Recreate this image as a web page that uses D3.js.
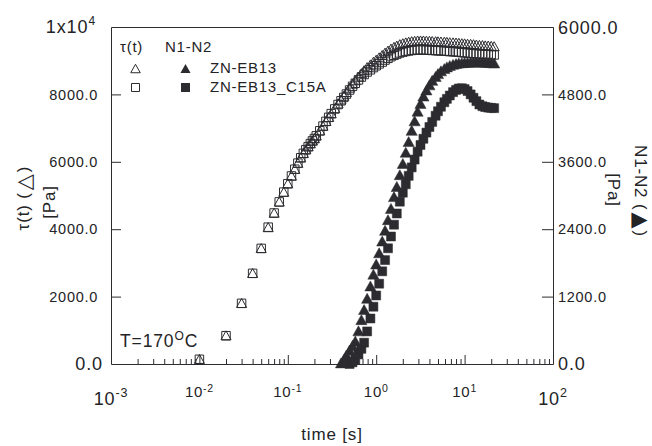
<!DOCTYPE html>
<html>
<head>
<meta charset="utf-8">
<script src="https://cdn.jsdelivr.net/npm/d3@7"></script>
<style>
  body { margin: 0; background: #fff; }
  svg text { font-family: "Liberation Sans", Arial, "DejaVu Sans", sans-serif; fill: #232326; letter-spacing: 0.05em; }
</style>
</head>
<body>
<div id="vis-container"></div>
<script>
// axis ticks
const decades = [1e-3, 1e-2, 1e-1, 1, 10, 100];
const decadeExp = ["-3", "-2", "-1", "0", "1", "2"];
const tauTicks = [2000, 4000, 6000, 8000];
const n12Ticks = [1200, 2400, 3600, 4800];

// shear stress tau(t), both samples share the same time points
const time = [0.01, 0.02, 0.03, 0.04, 0.05, 0.06, 0.07, 0.08, 0.09, 0.10,
  0.11, 0.12, 0.13, 0.14, 0.15, 0.16, 0.17, 0.18, 0.19, 0.20,
  0.21, 0.23, 0.25, 0.27, 0.29, 0.31, 0.34, 0.37, 0.40, 0.43,
  0.46, 0.50, 0.54, 0.58, 0.63, 0.68, 0.73, 0.79, 0.86, 0.93,
  1.0, 1.08, 1.17, 1.26, 1.36, 1.47, 1.59, 1.71, 1.85, 2.0,
  2.16, 2.33, 2.52, 2.72, 2.94, 3.17, 3.42, 3.7, 4.0, 4.3,
  4.7, 5.0, 5.4, 5.9, 6.3, 6.8, 7.4, 8.0, 8.6, 9.3,
  10, 10.8, 11.7, 12.6, 13.6, 14.7, 15.9, 17.1, 18.5, 20, 21.6];

const tauEB13 = [150, 850, 1810, 2700, 3440, 4060, 4490, 4820, 5110, 5360,
  5590, 5790, 5970, 6130, 6260, 6370, 6460, 6550, 6630, 6700,
  6780, 6930, 7070, 7210, 7330, 7440, 7590, 7730, 7850, 7960,
  8070, 8200, 8320, 8420, 8530, 8630, 8720, 8810, 8890, 8970,
  9030, 9100, 9170, 9240, 9300, 9360, 9410, 9450, 9490, 9520,
  9545, 9565, 9580, 9590, 9600, 9600, 9600, 9595, 9590, 9585,
  9580, 9575, 9570, 9565, 9560, 9550, 9545, 9540, 9530, 9520,
  9515, 9505, 9500, 9490, 9480, 9470, 9465, 9455, 9450, 9440, 9430];

const tauC15A = [140, 840, 1800, 2690, 3430, 4060, 4480, 4810, 5100, 5350,
  5580, 5780, 5960, 6120, 6250, 6360, 6450, 6540, 6620, 6690,
  6770, 6920, 7060, 7200, 7320, 7430, 7570, 7700, 7810, 7910,
  8010, 8130, 8240, 8330, 8430, 8515, 8590, 8665, 8730, 8795,
  8850, 8905, 8960, 9020, 9070, 9120, 9160, 9195, 9230, 9255,
  9275, 9290, 9305, 9315, 9320, 9320, 9320, 9315, 9310, 9305,
  9300, 9295, 9290, 9285, 9280, 9270, 9265, 9260, 9250, 9240,
  9235, 9225, 9220, 9210, 9200, 9195, 9190, 9185, 9180, 9175, 9170];

// normal stress difference N1-N2
const n12TimeEB13 = [0.40, 0.43, 0.46, 0.50, 0.54, 0.58, 0.63, 0.68, 0.73, 0.79,
  0.86, 0.93, 1.0, 1.08, 1.17, 1.26, 1.36, 1.47, 1.59, 1.71,
  1.85, 2.0, 2.16, 2.33, 2.52, 2.72, 2.94, 3.17, 3.42, 3.7,
  4.0, 4.3, 4.7, 5.0, 5.4, 5.9, 6.3, 6.8, 7.4, 8.0,
  8.6, 9.3, 10, 10.8, 11.7, 12.6, 13.6, 14.7, 15.9, 17.1,
  18.5, 20, 21.6];
const n12EB13 = [20, 80, 160, 250, 330, 410, 590, 790, 970, 1170,
  1390, 1600, 1780, 1980, 2190, 2380, 2570, 2770, 2980, 3160,
  3370, 3570, 3770, 3960, 4160, 4330, 4500, 4640, 4770, 4880,
  4970, 5050, 5120, 5170, 5220, 5260, 5290, 5315, 5335, 5350,
  5360, 5365, 5370, 5372, 5375, 5376, 5377, 5377, 5376, 5374,
  5370, 5366, 5360];

const n12TimeC15A = [0.50, 0.54, 0.58, 0.63, 0.68, 0.73, 0.79, 0.86, 0.93, 1.0,
  1.08, 1.17, 1.26, 1.36, 1.47, 1.59, 1.71, 1.85, 2.0, 2.16,
  2.33, 2.52, 2.72, 2.94, 3.17, 3.42, 3.7, 4.0, 4.3, 4.7,
  5.0, 5.4, 5.9, 6.3, 6.8, 7.4, 8.0, 8.6, 9.3, 10,
  10.8, 11.7, 12.6, 13.6, 14.7, 15.9, 17.1, 18.5, 20, 21.6];
const n12C15A = [0, 30, 80, 170, 270, 380, 580, 810, 1020, 1220,
  1430, 1650, 1850, 2060, 2270, 2480, 2680, 2890, 3050, 3200,
  3350, 3500, 3640, 3780, 3900, 4010, 4120, 4220, 4310, 4420,
  4500, 4580, 4660, 4720, 4780, 4840, 4880, 4905, 4910, 4895,
  4860, 4800, 4740, 4680, 4620, 4590, 4575, 4565, 4560, 4555];

const ink = "#2c2c30";

let svg = d3.select("#vis-container")
  .append("svg")
  .attr("width", 652)
  .attr("height", 446);

let x = d3.scaleLog().domain([1e-3, 1e2]).range([111, 553]);
let yL = d3.scaleLinear().domain([0, 10000]).range([364, 27]);
let yR = d3.scaleLinear().domain([0, 6000]).range([364, 27]);

// triangle that sits inside its box, like the plotting program draws it
const boxTriangle = {
  draw(ctx, size) {
    const s = Math.sqrt(size);
    ctx.moveTo(0, -s / 2);
    ctx.lineTo(s * 0.56, s / 2);
    ctx.lineTo(-s * 0.56, s / 2);
    ctx.closePath();
  }
};

function styleAxis(g, size) {
  g.attr("color", ink)
   .attr("font-family", null)
   .attr("font-size", size);
}

// bottom axis: decades and minor ticks, all pointing inwards
svg.append("g")
  .attr("transform", "translate(0,364)")
  .call(d3.axisBottom(x).tickValues(decades).tickSize(-9).tickSizeOuter(0).tickFormat(""))
  .call(g => styleAxis(g, 14));

const minors = x.ticks().filter(d => Math.abs(Math.log10(d) - Math.round(Math.log10(d))) > 1e-6);
svg.append("g")
  .attr("transform", "translate(0,364)")
  .call(d3.axisBottom(x).tickValues(minors).tickSize(-5).tickFormat(""))
  .call(g => { styleAxis(g, 14); g.select(".domain").remove(); });

// left axis (tau)
svg.append("g")
  .attr("transform", "translate(111,0)")
  .call(d3.axisLeft(yL).tickValues(tauTicks).tickSize(-10).tickSizeOuter(0)
    .tickPadding(13).tickFormat(d3.format(".1f")))
  .call(g => styleAxis(g, 14.5));

// right axis (N1-N2)
svg.append("g")
  .attr("transform", "translate(553,0)")
  .call(d3.axisRight(yR).tickValues(n12Ticks).tickSize(-11).tickSizeOuter(0)
    .tickPadding(5).tickFormat(d3.format(".1f")))
  .call(g => styleAxis(g, 14.5));

// top border
svg.append("line")
  .attr("x1", 111.5).attr("x2", 553.5)
  .attr("y1", 27.5).attr("y2", 27.5)
  .attr("stroke", ink);

// power-of-ten labels, the two end ones are bigger
function powLabel(xPos, yBase, base, exp, size, supSize, lift, anchor) {
  const t = svg.append("text")
    .attr("x", xPos).attr("y", yBase)
    .attr("text-anchor", anchor)
    .style("font-size", size + "px");
  t.append("tspan").text(base);
  t.append("tspan").attr("dy", -lift).style("font-size", supSize + "px").text(exp);
  return t;
}

decades.forEach((d, i) => {
  const big = i === 0 || i === decades.length - 1;
  if (big) powLabel(x(d), 405, "10", decadeExp[i], 18, 12.5, 8, "middle");
  else powLabel(x(d), 397, "10", decadeExp[i], 15, 10.5, 5.5, "middle");
});

// corner labels
powLabel(96, 33, "1x10", "4", 18, 12, 8, "end");
svg.append("text").attr("x", 103).attr("y", 370).attr("text-anchor", "end")
  .style("font-size", "18px").text("0.0");
svg.append("text").attr("x", 558).attr("y", 370)
  .style("font-size", "18px").text("0.0");
svg.append("text").attr("x", 558).attr("y", 34)
  .style("font-size", "18px").text("6000.0");

// axis titles with a big marker glyph inside the brackets
function markTitle(transform, before, glyph) {
  const t = svg.append("text").attr("transform", transform)
    .attr("text-anchor", "middle").style("font-size", "17px");
  t.append("tspan").text(before + "(");
  t.append("tspan").attr("dx", 2).attr("dy", 1.5).style("font-family", "DejaVu Sans")
    .style("font-size", "21px").text(glyph);
  t.append("tspan").attr("dx", 1).attr("dy", -1.5).text(")");
}
markTitle("translate(29,198) rotate(-90)", "τ(t) ", "△");
svg.append("text").attr("transform", "translate(55,202) rotate(-90)")
  .attr("text-anchor", "middle").style("font-size", "17px").text("[Pa]");
markTitle("translate(635,191) rotate(90)", "N1-N2 ", "▲");
svg.append("text").attr("transform", "translate(608,190) rotate(90)")
  .attr("text-anchor", "middle").style("font-size", "17px").text("[Pa]");
svg.append("text").attr("x", 332).attr("y", 440)
  .attr("text-anchor", "middle").style("font-size", "17px").text("time [s]");

// temperature note
let tNote = svg.append("text").attr("x", 120).attr("y", 347).style("font-size", "17.5px");
tNote.append("tspan").text("T=170");
tNote.append("tspan").attr("dy", -7).style("font-size", "12px").text("O");
tNote.append("tspan").attr("dy", 7).text("C");

// data markers
function drawSeries(ts, vs, yScale, type, size, filled) {
  svg.append("g")
    .selectAll("path")
    .data(d3.zip(ts, vs))
    .join("path")
    .attr("transform", d => `translate(${x(d[0])},${yScale(d[1])})`)
    .attr("d", d3.symbol().type(type).size(size))
    .attr("fill", filled ? ink : "none")
    .attr("stroke", ink)
    .attr("stroke-width", filled ? 0.5 : 1);
}

drawSeries(time, tauEB13, yL, boxTriangle, 81, false);
drawSeries(time, tauC15A, yL, d3.symbolSquare, 72, false);
drawSeries(n12TimeEB13, n12EB13, yR, boxTriangle, 100, true);
drawSeries(n12TimeC15A, n12C15A, yR, d3.symbolSquare, 81, true);

// legend
svg.append("text").attr("x", 120).attr("y", 52).style("font-size", "15px").text("τ(t)");
svg.append("text").attr("x", 165).attr("y", 52).style("font-size", "15px").text("N1-N2");
const legendRows = [
  { label: "ZN-EB13", open: boxTriangle, filled: boxTriangle, y: 68.5, so: 72, sf: 81 },
  { label: "ZN-EB13_C15A", open: d3.symbolSquare, filled: d3.symbolSquare, y: 87.5, so: 64, sf: 81 }
];
legendRows.forEach(r => {
  svg.append("path").attr("transform", `translate(135.5,${r.y})`)
    .attr("d", d3.symbol().type(r.open).size(r.so))
    .attr("fill", "none").attr("stroke", ink).attr("stroke-width", 1);
  svg.append("path").attr("transform", `translate(185.5,${r.y})`)
    .attr("d", d3.symbol().type(r.filled).size(r.sf))
    .attr("fill", ink);
  svg.append("text").attr("x", 210).attr("y", r.y + 4 + (r.y > 80 ? 0.5 : 0))
    .style("font-size", "15px").text(r.label);
});
</script>
</body>
</html>
